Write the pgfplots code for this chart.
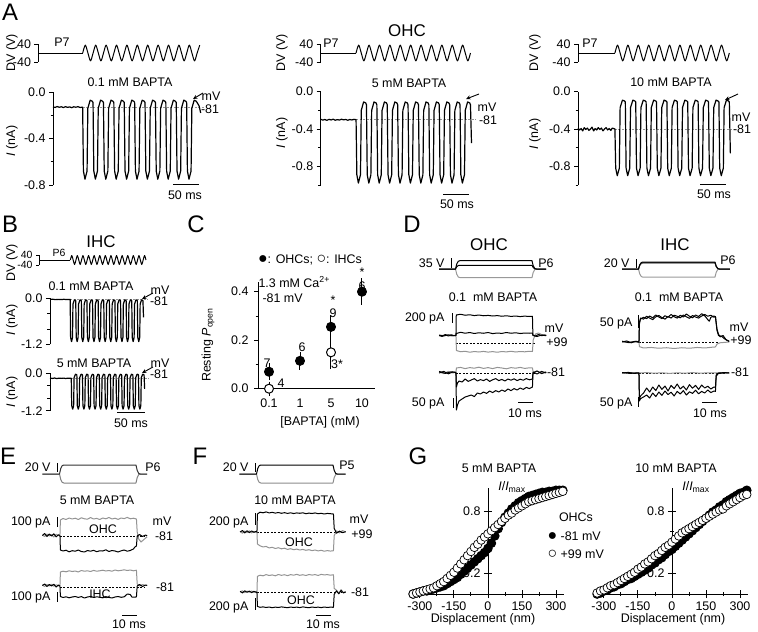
\documentclass[border=0pt]{standalone}
\usepackage{fontspec}
\setmainfont{Liberation Sans}
\usepackage{pgfplots}
\pgfplotsset{compat=1.18}
\usetikzlibrary{arrows.meta}
\newcommand{\fs}{\fontsize{12.5}{14}\selectfont}
\newcommand{\fss}{\fontsize{10.5}{12}\selectfont}
\newcommand{\fsT}{\fontsize{17}{19}\selectfont}
\newcommand{\fsL}{\fontsize{24}{26}\selectfont}
\newcommand{\bdot}{{\fontsize{16}{14}\selectfont ●}}
\newcommand{\wdot}{{\fontsize{16}{14}\selectfont ○}}
\colorlet{gr}{black!42}
\pgfplotsset{
  base/.style={scale only axis, clip=false, anchor=north west, enlargelimits=false,
    tick label style={font=\fs}, every axis plot/.append style={line width=1bp, line join=round}},
  tr/.style={base, hide axis},
  yl/.style={base, axis x line=none, axis y line=left, axis line style={-, line width=0.9bp},
    every outer y axis line/.append style={-}, every inner y axis line/.append style={-},
    tick align=outside, major tick length=4bp, minor tick length=2.5bp, xtick=\empty,
    tick style={black, line width=0.9bp}},
  stim/.style={yl, ymin=-40, ymax=40, ytick={-40,40}, yticklabels={-40,40}},
  dsh/.style={gr, line width=0.8bp, dash pattern=on 2bp off 1.5bp},
  kd/.style={black, line width=0.8bp, dash pattern=on 2bp off 1.5bp},
  tk/.style={black, line width=1.2bp},
}
\begin{document}
\begin{tikzpicture}[font=\fs]
\useasboundingbox (0,0) rectangle (758bp,-632bp);

%================ A =================
\node[font=\fsL] at (10bp,-12bp) {A};
% left stim
\begin{axis}[stim, at={(38.5bp,-44bp)}, width=170.6bp, height=18bp, xmin=-28, xmax=300]
\addplot[black] coordinates {(-28,0)(57,0)};
\addplot[black, smooth] coordinates {(57,0)(62,35)(67,0)(72,-35)(77,0)(82,35)(87,0)(92,-35)(97,0)(102,35)(107,0)(112,-35)(117,0)(122,35)(127,0)(132,-35)(137,0)(142,35)(147,0)(152,-35)(157,0)(162,35)(167,0)(172,-35)(177,0)(182,35)(187,0)(192,-35)(197,0)(202,35)(207,0)(212,-35)(217,0)(222,35)(227,0)(232,-35)(237,0)(242,35)(247,0)(252,-35)(257,0)(262,35)(267,0)(272,-35)(277,0)(282,35)};
\end{axis}
\begin{axis}[yl, at={(53bp,-92bp)}, width=156bp, height=93bp, xmin=0, xmax=300, ymin=-0.8, ymax=0,
  ytick={-0.8,-0.4,0}, yticklabels={-0.8,-0.4,0.0}, minor ytick={-0.6,-0.2}]
\addplot[dsh] coordinates {(57,-0.13)(290,-0.13)};
\addplot[tk] coordinates {(0,-0.128)(4,-0.133)(8,-0.125)(12,-0.131)(16,-0.127)(20,-0.134)(24,-0.126)(28,-0.132)(32,-0.128)(36,-0.135)(40,-0.127)(44,-0.131)(48,-0.126)(52,-0.133)(57,-0.13)
(58.5,-0.68)(61.5,-0.75)(65.5,-0.68)(67,-0.14)(71.5,-0.07)(75.5,-0.08)
(77,-0.09)(78.5,-0.68)(81.5,-0.75)(85.5,-0.68)(87,-0.14)(91.5,-0.07)(95.5,-0.08)
(97,-0.09)(98.5,-0.68)(101.5,-0.75)(105.5,-0.68)(107,-0.14)(111.5,-0.07)(115.5,-0.08)
(117,-0.09)(118.5,-0.68)(121.5,-0.75)(125.5,-0.68)(127,-0.14)(131.5,-0.07)(135.5,-0.08)
(137,-0.09)(138.5,-0.68)(141.5,-0.75)(145.5,-0.68)(147,-0.14)(151.5,-0.07)(155.5,-0.08)
(157,-0.09)(158.5,-0.68)(161.5,-0.75)(165.5,-0.68)(167,-0.14)(171.5,-0.07)(175.5,-0.08)
(177,-0.09)(178.5,-0.68)(181.5,-0.75)(185.5,-0.68)(187,-0.14)(191.5,-0.07)(195.5,-0.08)
(197,-0.09)(198.5,-0.68)(201.5,-0.75)(205.5,-0.68)(207,-0.14)(211.5,-0.07)(215.5,-0.08)
(217,-0.09)(218.5,-0.68)(221.5,-0.75)(225.5,-0.68)(227,-0.14)(231.5,-0.07)(235.5,-0.08)
(237,-0.09)(238.5,-0.68)(241.5,-0.75)(245.5,-0.68)(247,-0.14)(251.5,-0.07)(255.5,-0.08)
(257,-0.09)(258.5,-0.68)(261.5,-0.75)(265.5,-0.68)(267,-0.14)(271.5,-0.07)(275.5,-0.08)
(277,-0.09)(281,-0.12)(284,-0.18)};
\end{axis}
\node[rotate=90] at (12bp,-53bp) {DV (V)};
\node[rotate=90] at (12bp,-141bp) {\textit{I} (nA)};
\node at (62bp,-42bp) {P7};
\node at (130bp,-82bp) {0.1 mM BAPTA};
\draw[-{Stealth[length=4.5bp,width=4bp]}, line width=0.9bp] (203bp,-93bp) -- (193bp,-99bp);
\node at (211bp,-96bp) {mV};
\node at (210bp,-109bp) {-81};
\draw[line width=1bp] (173bp,-184bp) -- (199bp,-184bp);
\node at (185bp,-195bp) {50 ms};

% middle
\node[font=\fsT] at (407bp,-31bp) {OHC};
\begin{axis}[stim, at={(320.7bp,-44bp)}, width=156bp, height=18bp, xmin=0, xmax=300]
\addplot[black] coordinates {(0,0)(68,0)};
\addplot[black, smooth] coordinates {(68,0)(73,35)(78,0)(83,-35)(88,0)(93,35)(98,0)(103,-35)(108,0)(113,35)(118,0)(123,-35)(128,0)(133,35)(138,0)(143,-35)(148,0)(153,35)(158,0)(163,-35)(168,0)(173,35)(178,0)(183,-35)(188,0)(193,35)(198,0)(203,-35)(208,0)(213,35)(218,0)(223,-35)(228,0)(233,35)(238,0)(243,-35)(248,0)(253,35)(258,0)(263,-35)(268,0)(273,35)(278,0)(283,-35)(288,0)};
\end{axis}
\begin{axis}[yl, at={(320.7bp,-91.7bp)}, width=156bp, height=93.3bp, xmin=0, xmax=300, ymin=-1, ymax=0,
  ytick={-0.8,-0.4,0}, yticklabels={-0.8,-0.4,0.0}, minor ytick={-1,-0.6,-0.2}]
\addplot[dsh] coordinates {(68,-0.30)(297,-0.30)};
\addplot[tk] coordinates {(0,-0.295)(4,-0.305)(8,-0.298)(12,-0.307)(16,-0.296)(20,-0.303)(24,-0.294)(28,-0.306)(32,-0.299)(36,-0.304)(40,-0.295)(44,-0.302)(48,-0.297)(52,-0.306)(56,-0.298)(60,-0.303)(64,-0.296)(68,-0.30)
(69.5,-0.89)(72.5,-0.98)(76.5,-0.89)(78,-0.20)(82.5,-0.11)(86.5,-0.12)
(88,-0.14)(89.5,-0.89)(92.5,-0.98)(96.5,-0.89)(98,-0.20)(102.5,-0.11)(106.5,-0.12)
(108,-0.14)(109.5,-0.89)(112.5,-0.98)(116.5,-0.89)(118,-0.20)(122.5,-0.11)(126.5,-0.12)
(128,-0.14)(129.5,-0.89)(132.5,-0.98)(136.5,-0.89)(138,-0.20)(142.5,-0.11)(146.5,-0.12)
(148,-0.14)(149.5,-0.89)(152.5,-0.98)(156.5,-0.89)(158,-0.20)(162.5,-0.11)(166.5,-0.12)
(168,-0.14)(169.5,-0.89)(172.5,-0.98)(176.5,-0.89)(178,-0.20)(182.5,-0.11)(186.5,-0.12)
(188,-0.14)(189.5,-0.89)(192.5,-0.98)(196.5,-0.89)(198,-0.20)(202.5,-0.11)(206.5,-0.12)
(208,-0.14)(209.5,-0.89)(212.5,-0.98)(216.5,-0.89)(218,-0.20)(222.5,-0.11)(226.5,-0.12)
(228,-0.14)(229.5,-0.89)(232.5,-0.98)(236.5,-0.89)(238,-0.20)(242.5,-0.11)(246.5,-0.12)
(248,-0.14)(249.5,-0.89)(252.5,-0.98)(256.5,-0.89)(258,-0.20)(262.5,-0.11)(266.5,-0.12)
(268,-0.14)(269.5,-0.89)(272.5,-0.98)(276.5,-0.89)(278,-0.20)(282.5,-0.11)(286.5,-0.12)
(288,-0.14)(290,-0.55)};
\end{axis}
\node[rotate=90] at (282bp,-53bp) {DV (V)};
\node[rotate=90] at (282bp,-133bp) {\textit{I} (nA)};
\node at (331bp,-43bp) {P7};
\node at (409bp,-83bp) {5 mM BAPTA};
\draw[-{Stealth[length=4.5bp,width=4bp]}, line width=0.9bp] (479bp,-94bp) -- (466bp,-99bp);
\node at (487bp,-107bp) {mV};
\node at (488bp,-120bp) {-81};
\draw[line width=1bp] (443bp,-194bp) -- (469bp,-194bp);
\node at (457bp,-204bp) {50 ms};

% right
\begin{axis}[stim, at={(578bp,-44bp)}, width=156bp, height=18bp, xmin=0, xmax=300]
\addplot[black] coordinates {(0,0)(71,0)};
\addplot[black, smooth] coordinates {(71,0)(76,35)(81,0)(86,-35)(91,0)(96,35)(101,0)(106,-35)(111,0)(116,35)(121,0)(126,-35)(131,0)(136,35)(141,0)(146,-35)(151,0)(156,35)(161,0)(166,-35)(171,0)(176,35)(181,0)(186,-35)(191,0)(196,35)(201,0)(206,-35)(211,0)(216,35)(221,0)(226,-35)(231,0)(236,35)(241,0)(246,-35)(251,0)(256,35)(261,0)(266,-35)(271,0)(276,35)(281,0)(286,-35)(291,0)};
\end{axis}
\begin{axis}[yl, at={(578bp,-91.7bp)}, width=156bp, height=93.3bp, xmin=0, xmax=300, ymin=-1, ymax=0,
  ytick={-0.8,-0.4,0}, yticklabels={-0.8,-0.4,0.0}, minor ytick={-1,-0.6,-0.2}]
\addplot[dsh] coordinates {(71,-0.40)(300,-0.40)};
\addplot[tk] coordinates {(0,-0.39)(3,-0.41)(6,-0.395)(9,-0.42)(12,-0.385)(15,-0.405)(18,-0.39)(21,-0.415)(24,-0.40)(27,-0.38)(30,-0.42)(33,-0.395)(36,-0.41)(39,-0.385)(42,-0.405)(45,-0.39)(48,-0.42)(51,-0.40)(54,-0.385)(57,-0.41)(60,-0.395)(63,-0.415)(66,-0.39)(71,-0.40)
(72.5,-0.82)(75.5,-0.90)(79.5,-0.82)(81,-0.17)(85.5,-0.09)(89.5,-0.10)
(91,-0.11)(92.5,-0.82)(95.5,-0.90)(99.5,-0.82)(101,-0.17)(105.5,-0.09)(109.5,-0.10)
(111,-0.11)(112.5,-0.82)(115.5,-0.90)(119.5,-0.82)(121,-0.17)(125.5,-0.09)(129.5,-0.10)
(131,-0.11)(132.5,-0.82)(135.5,-0.90)(139.5,-0.82)(141,-0.17)(145.5,-0.09)(149.5,-0.10)
(151,-0.11)(152.5,-0.82)(155.5,-0.90)(159.5,-0.82)(161,-0.17)(165.5,-0.09)(169.5,-0.10)
(171,-0.11)(172.5,-0.82)(175.5,-0.90)(179.5,-0.82)(181,-0.17)(185.5,-0.09)(189.5,-0.10)
(191,-0.11)(192.5,-0.82)(195.5,-0.90)(199.5,-0.82)(201,-0.17)(205.5,-0.09)(209.5,-0.10)
(211,-0.11)(212.5,-0.82)(215.5,-0.90)(219.5,-0.82)(221,-0.17)(225.5,-0.09)(229.5,-0.10)
(231,-0.11)(232.5,-0.82)(235.5,-0.90)(239.5,-0.82)(241,-0.17)(245.5,-0.09)(249.5,-0.10)
(251,-0.11)(252.5,-0.82)(255.5,-0.90)(259.5,-0.82)(261,-0.17)(265.5,-0.09)(269.5,-0.10)
(271,-0.11)(272.5,-0.82)(275.5,-0.90)(279.5,-0.82)(281,-0.17)(285.5,-0.09)(289.5,-0.10)
(291,-0.11)(293,-0.66)};
\end{axis}
\node[rotate=90] at (535bp,-53bp) {DV (V)};
\node[rotate=90] at (535bp,-134bp) {\textit{I} (nA)};
\node at (590bp,-43bp) {P7};
\node at (671bp,-82bp) {10 mM BAPTA};
\draw[-{Stealth[length=4.5bp,width=4bp]}, line width=0.9bp] (738bp,-94bp) -- (725bp,-100bp);
\node at (741bp,-117bp) {mV};
\node at (742bp,-129bp) {-81};
\draw[line width=1bp] (700bp,-184bp) -- (726bp,-184bp);
\node at (714bp,-194bp) {50 ms};

%================ B =================
\node[font=\fsL] at (10bp,-224bp) {B};
\node[font=\fsT] at (101bp,-242bp) {IHC};
\begin{axis}[stim, at={(39bp,-255bp)}, width=112bp, height=10bp, xmin=-20, xmax=180,
  tick label style={font=\fss}, major tick length=3bp]
\addplot[black] coordinates {(-20,0)(36,0)};
\addplot[black, smooth] coordinates {(36,0)(38.5,36)(41,0)(43.5,-36)(46,0)(48.5,36)(51,0)(53.5,-36)(56,0)(58.5,36)(61,0)(63.5,-36)(66,0)(68.5,36)(71,0)(73.5,-36)(76,0)(78.5,36)(81,0)(83.5,-36)(86,0)(88.5,36)(91,0)(93.5,-36)(96,0)(98.5,36)(101,0)(103.5,-36)(106,0)(108.5,36)(111,0)(113.5,-36)(116,0)(118.5,36)(121,0)(123.5,-36)(126,0)(128.5,36)(131,0)(133.5,-36)(136,0)(138.5,36)(141,0)(143.5,-36)(146,0)(148.5,36)(151,0)(153.5,-36)(156,0)(158.5,36)(161,0)(163.5,-36)(166,0)(168.5,36)(171,0)};
\end{axis}
\begin{axis}[yl, at={(50bp,-298.3bp)}, width=100.8bp, height=46bp, xmin=0, xmax=180, ymin=-1.2, ymax=0,
  ytick={-1.2,0}, yticklabels={-1.2,0.0}, minor ytick={-0.8,-0.4}]
\addplot[dsh] coordinates {(36,-0.03)(175,-0.03)};
\addplot[tk] coordinates {(0,-0.03)(5,-0.025)(10,-0.035)(15,-0.028)(20,-0.033)(25,-0.026)(30,-0.034)(36,-0.03)
(36.8,-1.02)(38.5,-1.13)(40.2,-1.02)(41,-0.15)(43.5,-0.04)(45.3,-0.05)
(46,-0.07)(46.8,-1.02)(48.5,-1.13)(50.2,-1.02)(51,-0.15)(53.5,-0.04)(55.3,-0.05)
(56,-0.07)(56.8,-1.02)(58.5,-1.13)(60.2,-1.02)(61,-0.15)(63.5,-0.04)(65.3,-0.05)
(66,-0.07)(66.8,-1.02)(68.5,-1.13)(70.2,-1.02)(71,-0.15)(73.5,-0.04)(75.3,-0.05)
(76,-0.07)(76.8,-1.02)(78.5,-1.13)(80.2,-1.02)(81,-0.15)(83.5,-0.04)(85.3,-0.05)
(86,-0.07)(86.8,-1.02)(88.5,-1.13)(90.2,-1.02)(91,-0.15)(93.5,-0.04)(95.3,-0.05)
(96,-0.07)(96.8,-1.02)(98.5,-1.13)(100.2,-1.02)(101,-0.15)(103.5,-0.04)(105.3,-0.05)
(106,-0.07)(106.8,-1.02)(108.5,-1.13)(110.2,-1.02)(111,-0.15)(113.5,-0.04)(115.3,-0.05)
(116,-0.07)(116.8,-1.02)(118.5,-1.13)(120.2,-1.02)(121,-0.15)(123.5,-0.04)(125.3,-0.05)
(126,-0.07)(126.8,-1.02)(128.5,-1.13)(130.2,-1.02)(131,-0.15)(133.5,-0.04)(135.3,-0.05)
(136,-0.07)(136.8,-1.02)(138.5,-1.13)(140.2,-1.02)(141,-0.15)(143.5,-0.04)(145.3,-0.05)
(146,-0.07)(146.8,-1.02)(148.5,-1.13)(150.2,-1.02)(151,-0.15)(153.5,-0.04)(155.3,-0.05)
(156,-0.07)(156.8,-1.02)(158.5,-1.13)(160.2,-1.02)(161,-0.15)(163.5,-0.04)(165.3,-0.05)
(166,-0.07)(167,-0.5)};
\end{axis}
\begin{axis}[yl, at={(50bp,-373.3bp)}, width=100.8bp, height=37.4bp, xmin=0, xmax=180, ymin=-1.2, ymax=0,
  ytick={-1.2,0}, yticklabels={-1.2,0.0}, minor ytick={-0.8,-0.4}]
\addplot[dsh] coordinates {(38,-0.16)(177,-0.16)};
\addplot[tk] coordinates {(0,-0.155)(4,-0.165)(8,-0.152)(12,-0.168)(16,-0.156)(20,-0.163)(24,-0.154)(28,-0.166)(32,-0.157)(38,-0.16)
(38.8,-1.04)(40.5,-1.15)(42.2,-1.04)(43,-0.14)(45.5,-0.03)(47.3,-0.04)
(48,-0.06)(48.8,-1.04)(50.5,-1.15)(52.2,-1.04)(53,-0.14)(55.5,-0.03)(57.3,-0.04)
(58,-0.06)(58.8,-1.04)(60.5,-1.15)(62.2,-1.04)(63,-0.14)(65.5,-0.03)(67.3,-0.04)
(68,-0.06)(68.8,-1.04)(70.5,-1.15)(72.2,-1.04)(73,-0.14)(75.5,-0.03)(77.3,-0.04)
(78,-0.06)(78.8,-1.04)(80.5,-1.15)(82.2,-1.04)(83,-0.14)(85.5,-0.03)(87.3,-0.04)
(88,-0.06)(88.8,-1.04)(90.5,-1.15)(92.2,-1.04)(93,-0.14)(95.5,-0.03)(97.3,-0.04)
(98,-0.06)(98.8,-1.04)(100.5,-1.15)(102.2,-1.04)(103,-0.14)(105.5,-0.03)(107.3,-0.04)
(108,-0.06)(108.8,-1.04)(110.5,-1.15)(112.2,-1.04)(113,-0.14)(115.5,-0.03)(117.3,-0.04)
(118,-0.06)(118.8,-1.04)(120.5,-1.15)(122.2,-1.04)(123,-0.14)(125.5,-0.03)(127.3,-0.04)
(128,-0.06)(128.8,-1.04)(130.5,-1.15)(132.2,-1.04)(133,-0.14)(135.5,-0.03)(137.3,-0.04)
(138,-0.06)(138.8,-1.04)(140.5,-1.15)(142.2,-1.04)(143,-0.14)(145.5,-0.03)(147.3,-0.04)
(148,-0.06)(148.8,-1.04)(150.5,-1.15)(152.2,-1.04)(153,-0.14)(155.5,-0.03)(157.3,-0.04)
(158,-0.06)(158.8,-1.04)(160.5,-1.15)(162.2,-1.04)(163,-0.14)(165.5,-0.03)(167.3,-0.04)
(168,-0.06)(169,-0.5)};
\end{axis}
\node[rotate=90] at (12bp,-263bp) {DV (V)};
\node[font=\fss] at (59bp,-253bp) {P6};
\node at (91bp,-286bp) {0.1 mM BAPTA};
\node[rotate=90] at (12bp,-320bp) {\textit{I} (nA)};
\draw[-{Stealth[length=4.5bp,width=4bp]}, line width=0.9bp] (153bp,-293bp) -- (142bp,-299bp);
\node at (160bp,-290bp) {mV};
\node at (159bp,-301bp) {-81};
\node at (94bp,-363bp) {5 mM BAPTA};
\node[rotate=90] at (12bp,-392bp) {\textit{I} (nA)};
\draw[-{Stealth[length=4.5bp,width=4bp]}, line width=0.9bp] (153bp,-367bp) -- (142bp,-373bp);
\node at (160bp,-363bp) {mV};
\node at (159bp,-374bp) {-81};
\draw[line width=1bp] (117bp,-412bp) -- (145bp,-412bp);
\node at (131bp,-423bp) {50 ms};

%================ C =================
\node[font=\fsL] at (196bp,-224bp) {C};
\begin{axis}[base, at={(258bp,-282bp)}, width=117bp, height=106.7bp, xmin=-0.355, xmax=3.42, ymin=0, ymax=0.44,
  axis x line=bottom, axis y line=left, axis line style={-, line width=0.9bp},
  every outer x axis line/.append style={-}, every outer y axis line/.append style={-},
  tick align=outside, major tick length=4bp, minor tick length=2.5bp, tick style={black, line width=0.9bp},
  xtick={0,1,2,3}, xticklabels={0.1,1,5,10}, xtick style={draw=none}, xticklabel style={yshift=-3bp},
  yticklabel style={xshift=-2bp},
  ytick={0,0.2,0.4}, yticklabels={0.0,0.2,0.4}, minor ytick={0.1,0.3}]
\addplot[only marks, mark=*, mark size=4.5bp, black, error bars/.cd, y dir=both, y explicit,
  error bar style={line width=1bp, black}, error mark options={mark size=6bp, line width=1bp, black}]
  coordinates {(0,0.07) +- (0,0.01) (1,0.115) +- (0,0.012) (2,0.255) +- (0,0.025) (3,0.40) +- (0,0.03)};
\addplot[only marks, mark=*, mark size=4.5bp, mark options={fill=white, draw=black, line width=1bp},
  error bars/.cd, y dir=both, y explicit,
  error bar style={line width=1bp, black}, error mark options={mark size=6bp, line width=1bp, black}]
  coordinates {(0,0.0) +- (0,0.004) (2,0.15) +- (0,0.045)};
\end{axis}
\node at (310bp,-260bp) {\bdot: OHCs; \wdot: IHCs};
\node[anchor=west] at (255bp,-282bp) {1.3 mM Ca\textsuperscript{2+}};
\node[anchor=west] at (259bp,-298bp) {-81 mV};
\node at (267bp,-363bp) {7};
\node at (281bp,-383bp) {4};
\node at (302bp,-347bp) {6};
\node at (333bp,-300bp) {*};
\node at (333bp,-313bp) {9};
\node at (337bp,-364bp) {3*};
\node at (362bp,-272bp) {*};
\node at (362bp,-286bp) {6};
\node[rotate=90] at (208bp,-345bp) {Resting \textit{P}\textsubscript{open}};
\node at (320bp,-422bp) {[BAPTA] (mM)};

%================ D =================
\node[font=\fsL] at (412bp,-224bp) {D};
\node[font=\fsT] at (489bp,-245bp) {OHC};
\node[font=\fsT] at (675bp,-245bp) {IHC};
% OHC stim
\begin{axis}[tr, at={(437.6bp,-259bp)}, width=113.2bp, height=20bp, xmin=-12, xmax=62, ymin=-35, ymax=35]
\addplot[black!40] coordinates {(-11,0)(-0.3,0)(0.5,-18)(1.5,-27.9)(2.5,-30)(49.7,-30)(50.5,-12)(51.5,-2.1)(52.5,0)(59,0)};
\addplot[black] coordinates {(-11,0)(-0.3,0)(0.5,7.8)(1.5,12.1)(2.5,13)(49.7,13)(50.5,5.2)(51.5,0.9)(52.5,0)(59,0)};
\addplot[black] coordinates {(-11,0)(-0.3,0)(0.5,17.4)(1.5,27)(2.5,29)(49.7,29)(50.5,11.6)(51.5,2)(52.5,0)(59,0)};
\end{axis}
\node[anchor=east] at (448bp,-263bp) {35 V};
\draw[line width=1bp] (451bp,-258bp) -- (451bp,-268bp);
\node at (546bp,-263bp) {P6};
\node at (493bp,-297bp) {0.1\ \ mM BAPTA};
% OHC top
\begin{axis}[tr, at={(437.6bp,-308bp)}, width=113.2bp, height=50bp, xmin=-12, xmax=62, ymin=-300, ymax=700]
\addplot[kd] coordinates {(0,0)(52,0)};
\addplot[gr] coordinates {(-11,145)(-7,160)(-3,140)(0,150)(0.3,-150)(3,-175)(6,-165)(9,-185)(12,-170)(15,-180)(18,-168)(21,-182)(24,-172)(27,-185)(30,-170)(33,-178)(36,-165)(39,-180)(42,-170)(45,-176)(48,-165)(50,-170)(50.5,60)(52,180)(54,200)(56,170)(59,155)};
\addplot[black] coordinates {(-11,160)(-8,140)(-5,165)(-2,145)(0,155)(0.3,190)(3,215)(6,195)(9,210)(12,190)(15,205)(18,195)(21,210)(24,188)(27,200)(30,192)(33,210)(36,195)(39,205)(42,190)(45,200)(48,195)(50,200)(50.3,150)(53,130)(56,160)(59,145)};
\addplot[black] coordinates {(-11,150)(-9,130)(-7,170)(-5,140)(-3,165)(-1,145)(0,150)(0.2,560)(3,575)(6,555)(9,565)(12,548)(15,560)(18,545)(21,552)(24,540)(27,548)(30,535)(33,545)(36,532)(39,540)(42,528)(45,538)(48,530)(50,535)(50.3,160)(52,140)(54,170)(56,145)(58,160)(59,150)};
\end{axis}
\node[anchor=east] at (448bp,-318bp) {200 pA};
\draw[line width=1bp] (452bp,-313bp) -- (452bp,-323bp);
\node at (554bp,-328bp) {mV};
\node at (557bp,-342bp) {+99};
% OHC bottom
\begin{axis}[tr, at={(437.6bp,-353bp)}, width=113.2bp, height=70bp, xmin=-12, xmax=62, ymin=-250, ymax=100]
\addplot[kd] coordinates {(0,0)(52,0)};
\addplot[gr] coordinates {(-11,5)(-8,-3)(-5,8)(-2,0)(0,5)(0.3,25)(3,28)(6,22)(9,27)(12,24)(15,29)(18,23)(21,27)(24,22)(27,28)(30,25)(33,21)(36,27)(39,24)(42,28)(45,23)(48,26)(50,25)(50.5,5)(53,10)(56,0)(59,5)};
\addplot[black] coordinates {(-11,0)(-8,8)(-5,-4)(-2,5)(0,2)(0.3,-70)(1,-50)(2,-40)(4,-45)(6,-30)(8,-42)(10,-35)(12,-28)(14,-40)(16,-33)(18,-38)(20,-30)(22,-42)(24,-34)(26,-28)(28,-38)(30,-32)(32,-40)(34,-30)(36,-36)(38,-29)(40,-38)(42,-31)(44,-36)(46,-28)(48,-34)(50,-30)(50.4,5)(53,-5)(56,8)(59,0)};
\addplot[black] coordinates {(-11,8)(-7,-2)(-3,6)(0,3)(0.3,-185)(1,-160)(2,-140)(4,-130)(6,-120)(8,-115)(10,-110)(12,-118)(14,-100)(16,-105)(18,-95)(20,-102)(22,-90)(24,-98)(26,-88)(28,-95)(30,-85)(32,-92)(34,-80)(36,-88)(38,-78)(40,-85)(42,-75)(44,-82)(46,-72)(48,-78)(50,-70)(50.4,0)(53,10)(56,-3)(59,5)};
\end{axis}
\node at (556bp,-372bp) {-81};
\node[anchor=east] at (448bp,-403bp) {50 pA};
\draw[line width=1bp] (453bp,-398bp) -- (453bp,-408bp);
\draw[line width=1bp] (518bp,-402bp) -- (533bp,-402bp);
\node at (525bp,-413bp) {10 ms};
% IHC stim
\begin{axis}[tr, at={(620.6bp,-260bp)}, width=113.2bp, height=18bp, xmin=-12, xmax=62, ymin=-20, ymax=20]
\addplot[black!40] coordinates {(-11,0)(-0.3,0)(0.5,-10.8)(1.5,-16.7)(2.5,-18)(49.7,-18)(50.5,-7.2)(51.5,-1.3)(52.5,0)(59.5,0)};
\addplot[black!55] coordinates {(-11,0)(-0.3,0)(0.5,7.8)(1.5,12.1)(2.5,13)(49.7,13)(50.5,5.2)(51.5,0.9)(52.5,0)(59.5,0)};
\addplot[black!75] coordinates {(-11,0)(-0.3,0)(0.5,8.4)(1.5,13)(2.5,14)(49.7,14)(50.5,5.6)(51.5,1)(52.5,0)(59.5,0)};
\addplot[black] coordinates {(-11,0)(-0.3,0)(0.5,9.3)(1.5,14.4)(2.5,15.5)(49.7,15.5)(50.5,6.2)(51.5,1.1)(52.5,0)(59.5,0)};
\end{axis}
\node[anchor=east] at (633bp,-263bp) {20 V};
\draw[line width=1bp] (636bp,-259bp) -- (636bp,-268bp);
\node at (728bp,-260bp) {P6};
\node at (679bp,-297bp) {0.1\ \ mM BAPTA};
% IHC top
\begin{axis}[tr, at={(620.6bp,-305.6bp)}, width=113.2bp, height=52bp, xmin=-12, xmax=62, ymin=-60, ymax=140]
\addplot[kd] coordinates {(0,0)(52,0)};
\addplot[gr] coordinates {(-11,1)(-6,-3)(-1,2)(0,0)(0.3,-18)(3,-23)(8,-21)(13,-24)(18,-22)(23,-25)(28,-22)(33,-24)(38,-21)(43,-23)(48,-20)(50,-19)(51,-8)(53,-3)(59,0)};
\addplot[black] coordinates {(-11,3)(-7,-2)(-3,2)(0,-1)(0.3,75)(1,92)(3,88)(5,99)(7,92)(9,86)(11,97)(13,102)(15,94)(17,88)(19,98)(21,92)(23,103)(25,99)(27,93)(29,104)(31,97)(33,91)(35,102)(37,96)(39,92)(41,100)(43,106)(45,99)(47,103)(49,95)(50,98)(51,50)(52,30)(53,20)(55,25)(57,8)(59,2)};
\addplot[black] coordinates {(-11,0)(-8,4)(-5,-3)(-2,3)(0,0)(0.3,70)(1,88)(3,95)(5,90)(7,100)(9,93)(11,104)(13,96)(15,90)(17,101)(19,95)(21,106)(23,97)(25,92)(27,103)(29,96)(31,108)(33,99)(35,93)(37,104)(39,98)(41,109)(43,101)(45,86)(46,80)(47,95)(49,100)(50,97)(51,45)(52,25)(54,22)(56,12)(59,3)};
\end{axis}
\node[anchor=east] at (636bp,-323bp) {50 pA};
\draw[line width=1bp] (638bp,-315bp) -- (638bp,-328bp);
\node at (739bp,-327bp) {mV};
\node at (741bp,-340bp) {+99};
% IHC bottom
\begin{axis}[tr, at={(620.6bp,-363bp)}, width=113.2bp, height=50bp, xmin=-12, xmax=62, ymin=-200, ymax=50]
\addplot[kd] coordinates {(0,0)(57,0)};
\addplot[gr] coordinates {(-11,0)(-6,2)(-1,-1)(0,0)(5,2)(10,-1)(15,1)(20,-2)(25,1)(30,-1)(35,2)(40,-1)(45,1)(50,0)(55,1)(59,0)};
\addplot[black] coordinates {(-11,2)(-6,-2)(-1,1)(0,0)(0.3,-140)(1,-128)(3,-120)(5,-110)(7,-125)(9,-100)(11,-118)(13,-95)(15,-112)(17,-90)(19,-108)(21,-96)(23,-115)(25,-92)(27,-105)(29,-88)(31,-110)(33,-94)(35,-102)(37,-86)(39,-104)(41,-92)(43,-100)(45,-85)(47,-98)(49,-90)(50,-92)(50.5,-15)(52,-2)(56,1)(59,0)};
\addplot[black] coordinates {(-11,0)(-7,3)(-3,-2)(0,0)(0.3,-130)(1,-115)(3,-100)(5,-75)(7,-95)(9,-70)(11,-88)(13,-60)(15,-82)(17,-65)(19,-90)(21,-62)(23,-78)(25,-55)(27,-80)(29,-66)(31,-85)(33,-58)(35,-76)(37,-62)(39,-82)(41,-60)(43,-75)(45,-66)(47,-80)(49,-70)(50,-72)(50.5,-10)(52,0)(56,2)(59,0)};
\end{axis}
\node at (740bp,-372bp) {-81};
\node[anchor=east] at (636bp,-403bp) {50 pA};
\draw[line width=1bp] (638bp,-397bp) -- (638bp,-407bp);
\draw[line width=1bp] (702bp,-402bp) -- (717bp,-402bp);
\node at (710bp,-413bp) {10 ms};

%================ E =================
\node[font=\fsL] at (8bp,-456bp) {E};
\begin{axis}[tr, at={(41.6bp,-462.75bp)}, width=113.2bp, height=22.5bp, xmin=-12, xmax=62, ymin=-25, ymax=25]
\addplot[black!50] coordinates {(-11.5,0)(-0.3,0)(0.5,-12)(1.5,-18.6)(2.5,-20)(49.7,-20)(50.5,-8)(51.5,-1.4)(52.5,0)(57,0)};
\addplot[black!80] coordinates {(-11.5,0)(-0.3,0)(0.5,12)(1.5,18.6)(2.5,20)(49.7,20)(50.5,8)(51.5,1.4)(52.5,0)(57,0)};
\end{axis}
\node[anchor=east] at (54bp,-467bp) {20 V};
\draw[line width=1bp] (57bp,-463bp) -- (57bp,-472bp);
\node at (153bp,-467bp) {P6};
\node at (97bp,-500bp) {5 mM BAPTA};
\begin{axis}[tr, at={(41.6bp,-511bp)}, width=113.2bp, height=50bp, xmin=-12, xmax=62, ymin=-250, ymax=250]
\addplot[kd] coordinates {(0,0)(55,0)};
\addplot[gr] coordinates {(-11.5,10)(-10,-5)(-8.5,20)(-7,0)(-5.5,15)(-4,-10)(-2.5,18)(-1,5)(0,10)(0.3,160)(2,175)(4,165)(6,180)(8,170)(10,178)(12,165)(14,182)(16,172)(18,168)(20,185)(22,170)(24,176)(26,165)(28,180)(30,172)(32,185)(34,170)(36,178)(38,166)(40,180)(42,174)(44,186)(46,172)(48,178)(50,170)(50.5,40)(51.5,-30)(53,-60)(54.5,-40)(56,-20)(57,-10)};
\addplot[black] coordinates {(-11.5,5)(-10,25)(-8.5,-5)(-7,20)(-5.5,0)(-4,22)(-2.5,-8)(-1,12)(0,5)(0.3,-140)(2,-150)(4,-142)(6,-158)(8,-147)(10,-152)(12,-140)(14,-155)(16,-160)(18,-145)(20,-152)(22,-143)(24,-157)(26,-148)(28,-150)(30,-138)(32,-155)(34,-145)(36,-150)(38,-160)(40,-148)(42,-140)(44,-152)(46,-145)(48,-130)(49,-110)(50,-100)(50.5,0)(52,15)(54,-5)(56,10)(57,0)};
\end{axis}
\node[anchor=east] at (54bp,-522bp) {100 pA};
\draw[line width=1bp] (57bp,-517bp) -- (57bp,-527bp);
\node at (103bp,-529bp) {OHC};
\node at (162bp,-521bp) {mV};
\node at (164bp,-536bp) {-81};
\begin{axis}[tr, at={(41.6bp,-562bp)}, width=113.2bp, height=45bp, xmin=-12, xmax=62, ymin=-200, ymax=250]
\addplot[kd] coordinates {(0,0)(55,0)};
\addplot[gr] coordinates {(-11.5,20)(-10,5)(-8.5,25)(-7,10)(-5.5,28)(-4,8)(-2.5,22)(-1,12)(0,15)(0.3,150)(2,158)(4,152)(6,162)(8,155)(10,160)(12,150)(14,165)(16,158)(18,162)(20,155)(22,166)(24,158)(26,162)(28,168)(30,160)(32,165)(34,158)(36,170)(38,162)(40,166)(42,172)(44,165)(46,170)(48,162)(50,168)(50.5,30)(52,10)(54,25)(56,15)(57,20)};
\addplot[black] coordinates {(-11.5,15)(-10,30)(-8.5,5)(-7,25)(-5.5,10)(-4,28)(-2.5,0)(-1,20)(0,10)(0.3,-95)(2,-105)(4,-98)(6,-108)(8,-100)(10,-95)(12,-104)(14,-96)(16,-110)(18,-100)(20,-94)(22,-105)(24,-98)(26,-102)(28,-108)(30,-96)(32,-104)(34,-110)(36,-100)(38,-95)(40,-103)(42,-98)(44,-70)(46,-75)(47,-100)(49,-102)(50,-98)(50.5,10)(52,25)(54,5)(56,20)(57,15)};
\end{axis}
\node at (165bp,-587bp) {-81};
\node at (100bp,-594bp) {IHC};
\node[anchor=east] at (54bp,-597bp) {100 pA};
\draw[line width=1bp] (57bp,-592bp) -- (57bp,-602bp);
\draw[line width=1bp] (122bp,-615bp) -- (137bp,-615bp);
\node at (129bp,-624bp) {10 ms};

%================ F =================
\node[font=\fsL] at (200bp,-456bp) {F};
\begin{axis}[tr, at={(238.6bp,-462.75bp)}, width=113.2bp, height=22.5bp, xmin=-12, xmax=62, ymin=-25, ymax=25]
\addplot[black!45] coordinates {(-11.5,0)(-0.3,0)(0.5,-12)(1.5,-18.6)(2.5,-20)(49.7,-20)(50.5,-8)(51.5,-1.4)(52.5,0)(58,0)};
\addplot[black] coordinates {(-11.5,0)(-0.3,0)(0.5,12)(1.5,18.6)(2.5,20)(49.7,20)(50.5,8)(51.5,1.4)(52.5,0)(58,0)};
\end{axis}
\node[anchor=east] at (252bp,-467bp) {20 V};
\draw[line width=1bp] (255bp,-463bp) -- (255bp,-472bp);
\node at (347bp,-465bp) {P5};
\node at (295bp,-500bp) {10 mM BAPTA};
\begin{axis}[tr, at={(238.6bp,-505bp)}, width=113.2bp, height=54bp, xmin=-12, xmax=62, ymin=-450, ymax=450]
\addplot[kd] coordinates {(0,0)(55,0)};
\addplot[gr] coordinates {(-11,10)(-9.5,-20)(-8,15)(-6.5,-10)(-5,20)(-3.5,-15)(-2,10)(-0.5,-5)(0,0)(0.3,-200)(2,-230)(4,-250)(6,-240)(8,-265)(10,-255)(12,-275)(14,-262)(16,-280)(18,-270)(20,-290)(22,-278)(24,-295)(26,-285)(28,-300)(30,-290)(32,-305)(34,-295)(36,-310)(38,-300)(40,-315)(42,-305)(44,-320)(46,-310)(48,-318)(50,-312)(50.5,-60)(52,20)(54,-15)(56,25)(58,0)};
\addplot[black] coordinates {(-11,0)(-9.5,25)(-8,-15)(-6.5,20)(-5,-10)(-3.5,18)(-2,-5)(-0.5,10)(0,0)(0.3,300)(2,330)(4,320)(6,335)(8,318)(10,328)(12,315)(14,325)(16,312)(18,322)(20,310)(22,320)(24,308)(26,318)(28,312)(30,320)(32,305)(34,315)(36,308)(38,318)(40,305)(42,312)(44,300)(46,310)(48,305)(50,300)(50.5,60)(52,-20)(54,15)(56,-10)(58,5)};
\end{axis}
\node[anchor=east] at (252bp,-522bp) {200 pA};
\draw[line width=1bp] (255bp,-513bp) -- (255bp,-525bp);
\node at (299bp,-542bp) {OHC};
\node at (359bp,-519bp) {mV};
\node at (362bp,-534bp) {+99};
\begin{axis}[tr, at={(238.6bp,-568bp)}, width=113.2bp, height=48bp, xmin=-12, xmax=62, ymin=-400, ymax=400]
\addplot[kd] coordinates {(0,0)(55,0)};
\addplot[gr] coordinates {(-11,0)(-9.5,20)(-8,-10)(-6.5,15)(-5,-5)(-3.5,18)(-2,-8)(-0.5,10)(0,0)(0.3,260)(2,280)(4,270)(6,290)(8,275)(10,285)(12,270)(14,292)(16,278)(18,288)(20,272)(22,290)(24,280)(26,295)(28,278)(30,288)(32,275)(34,292)(36,282)(38,290)(40,276)(42,294)(44,285)(46,290)(48,280)(50,288)(50.5,60)(52,30)(53.5,-20)(55,40)(56.5,-10)(58,10)};
\addplot[black] coordinates {(-11,10)(-9.5,-15)(-8,20)(-6.5,-5)(-5,15)(-3.5,-10)(-2,12)(-0.5,-5)(0,0)(0.3,-240)(2,-255)(4,-248)(6,-258)(8,-250)(10,-262)(12,-252)(14,-258)(16,-248)(18,-255)(20,-262)(22,-250)(24,-258)(26,-252)(28,-260)(30,-248)(32,-256)(34,-262)(36,-250)(38,-258)(40,-252)(42,-260)(44,-250)(46,-258)(48,-252)(50,-255)(50.5,-40)(52,20)(53.5,-30)(55,25)(56.5,-15)(58,0)};
\end{axis}
\node at (360bp,-592bp) {-81};
\node at (301bp,-600bp) {OHC};
\node[anchor=east] at (252bp,-607bp) {200 pA};
\draw[line width=1bp] (255bp,-598bp) -- (255bp,-610bp);
\draw[line width=1bp] (316bp,-615bp) -- (331bp,-615bp);
\node at (323bp,-624bp) {10 ms};

%================ G =================
\node[font=\fsL] at (418bp,-456bp) {G};
\pgfplotsset{gax/.style={base, width=151.9bp, height=105.8bp, xmin=-335, xmax=335, ymin=0, ymax=1.02,
  axis lines=middle, axis line style={-, line width=0.9bp},
  every inner x axis line/.append style={-}, every inner y axis line/.append style={-},
  tick align=center, major tick length=8bp, minor tick length=4bp, tick style={black, line width=0.9bp},
  xtick={-300,-150,0,150,300}, xticklabels={-300,-150,0,150,300}, minor xtick={-225,-75,75,225},
  ytick={0.2,0.8}, yticklabels={0.2,0.8}, minor ytick={0.4,0.6}, hide obscured x ticks=false}}
\begin{axis}[gax, at={(412bp,-488.2bp)}]
\addplot[only marks, mark=*, mark size=4.3bp, black] coordinates {(-330,0.00)(-315,0.01)(-300,0.02)(-285,0.03)(-270,0.03)(-255,0.04)(-240,0.05)(-225,0.06)(-210,0.07)(-195,0.08)(-180,0.10)(-165,0.12)(-150,0.14)(-135,0.16)(-120,0.19)(-105,0.22)(-90,0.25)(-75,0.28)(-60,0.31)(-45,0.34)(-30,0.37)(-15,0.40)(0,0.44)(15,0.49)(30,0.56)(45,0.63)(60,0.69)(75,0.74)(90,0.78)(105,0.82)(120,0.85)(135,0.88)(150,0.90)(165,0.92)(180,0.94)(195,0.95)(210,0.96)(225,0.97)(240,0.98)(255,0.98)(270,0.99)(285,0.99)(300,1.00)(315,1.00)(330,1.00)};
\addplot[only marks, mark=*, mark size=4.3bp, mark options={fill=white, draw=black, line width=0.7bp}] coordinates {(-330,0.00)(-315,0.01)(-300,0.02)(-285,0.03)(-270,0.04)(-255,0.05)(-240,0.06)(-225,0.08)(-210,0.10)(-195,0.12)(-180,0.15)(-165,0.18)(-150,0.21)(-135,0.25)(-120,0.29)(-105,0.33)(-90,0.37)(-75,0.41)(-60,0.45)(-45,0.48)(-30,0.52)(-15,0.55)(0,0.58)(15,0.61)(30,0.64)(45,0.67)(60,0.70)(75,0.73)(90,0.76)(105,0.78)(120,0.81)(135,0.83)(150,0.85)(165,0.87)(180,0.89)(195,0.90)(210,0.91)(225,0.92)(240,0.93)(255,0.94)(270,0.95)(285,0.96)(300,0.97)(315,0.98)(330,0.99)};
\end{axis}
\begin{axis}[gax, at={(596bp,-488.2bp)}]
\addplot[only marks, mark=*, mark size=4.3bp, black] coordinates {(-330,0.00)(-315,0.01)(-300,0.03)(-285,0.04)(-270,0.06)(-255,0.07)(-240,0.09)(-225,0.10)(-210,0.12)(-195,0.14)(-180,0.15)(-165,0.17)(-150,0.19)(-135,0.21)(-120,0.23)(-105,0.25)(-90,0.28)(-75,0.30)(-60,0.33)(-45,0.35)(-30,0.38)(-15,0.41)(0,0.43)(15,0.46)(30,0.49)(45,0.52)(60,0.55)(75,0.58)(90,0.61)(105,0.64)(120,0.67)(135,0.70)(150,0.73)(165,0.76)(180,0.79)(195,0.81)(210,0.84)(225,0.86)(240,0.89)(255,0.91)(270,0.93)(285,0.95)(300,0.97)(315,0.98)(330,1.00)};
\addplot[only marks, mark=*, mark size=4.3bp, mark options={fill=white, draw=black, line width=0.7bp}] coordinates {(-330,0.01)(-315,0.03)(-300,0.04)(-285,0.06)(-270,0.08)(-255,0.09)(-240,0.11)(-225,0.13)(-210,0.15)(-195,0.17)(-180,0.19)(-165,0.21)(-150,0.24)(-135,0.26)(-120,0.29)(-105,0.31)(-90,0.34)(-75,0.37)(-60,0.39)(-45,0.42)(-30,0.45)(-15,0.47)(0,0.50)(15,0.53)(30,0.56)(45,0.59)(60,0.61)(75,0.63)(90,0.65)(105,0.67)(120,0.69)(135,0.71)(150,0.73)(165,0.75)(180,0.77)(195,0.79)(210,0.81)(225,0.82)(240,0.85)(255,0.87)(270,0.89)(285,0.91)(300,0.93)(315,0.95)(330,0.96)};
\end{axis}
\node at (499bp,-468bp) {5 mM BAPTA};
\node at (676bp,-468bp) {10 mM BAPTA};
\node at (512bp,-487bp) {\textit{I}/\textit{I}\textsubscript{max}};
\node at (696bp,-487bp) {\textit{I}/\textit{I}\textsubscript{max}};
\node at (576bp,-517bp) {OHCs};
\node[anchor=west, inner ysep=1bp] at (544bp,-536bp) {\bdot\ -81 mV};
\node[anchor=west, inner ysep=1bp] at (544bp,-554bp) {\wdot\ +99 mV};
\node at (483bp,-619bp) {Displacement (nm)};
\node at (673bp,-619bp) {Displacement (nm)};
\end{tikzpicture}
\end{document}
